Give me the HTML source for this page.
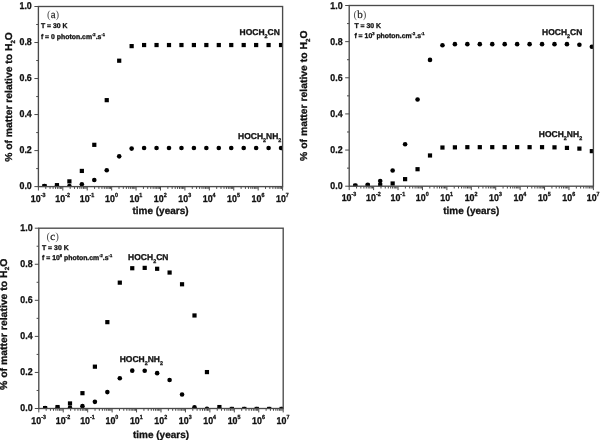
<!DOCTYPE html>
<html><head><meta charset="utf-8"><title>Plots</title><style>
html,body{margin:0;padding:0;background:#fff;}
body{width:600px;height:440px;overflow:hidden;}
svg{display:block;filter:blur(0.35px);}
text{font-family:"Liberation Sans", sans-serif;fill:#111;}
.tl,.at,.an,.sl{stroke:#111;stroke-width:0.3px;}
.tl{font-size:9.9px;font-weight:bold;}
.sup{font-size:6px;}
.at{font-size:10px;font-weight:bold;}
.sub{font-size:6px;}
.pl{font-family:"Liberation Serif", serif;font-size:11px;fill:#2a2a2a;stroke:#2a2a2a;stroke-width:0.25px;}
.pp{fill:#555;stroke:none;}
.an{font-size:6.9px;font-weight:bold;}
.asup{font-size:4.1px;}
.sl{font-size:8.5px;font-weight:bold;}
.ssub{font-size:5.4px;}
</style></head>
<body><svg width="600" height="440" viewBox="0 0 600 440">
<rect width="600" height="440" fill="#fff"/>
<clipPath id="clipa"><rect x="38.4" y="6.5" width="244.2" height="180.1"/></clipPath>
<g clip-path="url(#clipa)" fill="#000"><circle cx="44.5" cy="186.06" r="2.3"/><circle cx="56.95" cy="185.88" r="2.3"/><circle cx="69.4" cy="186.06" r="2.3"/><circle cx="81.85" cy="184.26" r="2.3"/><circle cx="94.3" cy="179.94" r="2.3"/><circle cx="106.75" cy="170.21" r="2.3"/><circle cx="119.2" cy="156.34" r="2.3"/><circle cx="131.65" cy="148.6" r="2.3"/><circle cx="144.1" cy="148.06" r="2.3"/><circle cx="156.55" cy="148.06" r="2.3"/><circle cx="169" cy="148.06" r="2.3"/><circle cx="181.45" cy="148.06" r="2.3"/><circle cx="193.9" cy="148.06" r="2.3"/><circle cx="206.35" cy="148.06" r="2.3"/><circle cx="218.8" cy="148.06" r="2.3"/><circle cx="231.25" cy="148.06" r="2.3"/><circle cx="243.7" cy="148.06" r="2.3"/><circle cx="256.15" cy="148.06" r="2.3"/><circle cx="268.6" cy="148.06" r="2.3"/><circle cx="281.05" cy="148.06" r="2.3"/><rect x="42.4" y="183.96" width="4.2" height="4.2"/><rect x="54.85" y="183.06" width="4.2" height="4.2"/><rect x="67.3" y="179.28" width="4.2" height="4.2"/><rect x="79.75" y="168.83" width="4.2" height="4.2"/><rect x="92.2" y="142.72" width="4.2" height="4.2"/><rect x="104.65" y="98.05" width="4.2" height="4.2"/><rect x="117.1" y="58.61" width="4.2" height="4.2"/><rect x="129.55" y="44.02" width="4.2" height="4.2"/><rect x="142" y="42.94" width="4.2" height="4.2"/><rect x="154.45" y="42.94" width="4.2" height="4.2"/><rect x="166.9" y="42.94" width="4.2" height="4.2"/><rect x="179.35" y="42.94" width="4.2" height="4.2"/><rect x="191.8" y="42.94" width="4.2" height="4.2"/><rect x="204.25" y="42.94" width="4.2" height="4.2"/><rect x="216.7" y="42.94" width="4.2" height="4.2"/><rect x="229.15" y="42.94" width="4.2" height="4.2"/><rect x="241.6" y="42.94" width="4.2" height="4.2"/><rect x="254.05" y="42.94" width="4.2" height="4.2"/><rect x="266.5" y="42.94" width="4.2" height="4.2"/><rect x="278.95" y="42.94" width="4.2" height="4.2"/></g>
<rect x="38.4" y="6.5" width="244.2" height="180.1" fill="none" stroke="#4a4a4a" stroke-width="1.35"/>
<path d="M34.4 186.6H38.4M36.2 168.59H38.4M34.4 150.58H38.4M36.2 132.57H38.4M34.4 114.56H38.4M36.2 96.55H38.4M34.4 78.54H38.4M36.2 60.53H38.4M34.4 42.52H38.4M36.2 24.51H38.4M34.4 6.5H38.4M38.4 186.6V190.5M45.75 186.6V188.9M50.05 186.6V188.9M53.1 186.6V188.9M55.47 186.6V188.9M57.4 186.6V188.9M59.04 186.6V188.9M60.45 186.6V188.9M61.7 186.6V188.9M62.82 186.6V190.5M70.17 186.6V188.9M74.47 186.6V188.9M77.52 186.6V188.9M79.89 186.6V188.9M81.82 186.6V188.9M83.46 186.6V188.9M84.87 186.6V188.9M86.12 186.6V188.9M87.24 186.6V190.5M94.59 186.6V188.9M98.89 186.6V188.9M101.94 186.6V188.9M104.31 186.6V188.9M106.24 186.6V188.9M107.88 186.6V188.9M109.29 186.6V188.9M110.54 186.6V188.9M111.66 186.6V190.5M119.01 186.6V188.9M123.31 186.6V188.9M126.36 186.6V188.9M128.73 186.6V188.9M130.66 186.6V188.9M132.3 186.6V188.9M133.71 186.6V188.9M134.96 186.6V188.9M136.08 186.6V190.5M143.43 186.6V188.9M147.73 186.6V188.9M150.78 186.6V188.9M153.15 186.6V188.9M155.08 186.6V188.9M156.72 186.6V188.9M158.13 186.6V188.9M159.38 186.6V188.9M160.5 186.6V190.5M167.85 186.6V188.9M172.15 186.6V188.9M175.2 186.6V188.9M177.57 186.6V188.9M179.5 186.6V188.9M181.14 186.6V188.9M182.55 186.6V188.9M183.8 186.6V188.9M184.92 186.6V190.5M192.27 186.6V188.9M196.57 186.6V188.9M199.62 186.6V188.9M201.99 186.6V188.9M203.92 186.6V188.9M205.56 186.6V188.9M206.97 186.6V188.9M208.22 186.6V188.9M209.34 186.6V190.5M216.69 186.6V188.9M220.99 186.6V188.9M224.04 186.6V188.9M226.41 186.6V188.9M228.34 186.6V188.9M229.98 186.6V188.9M231.39 186.6V188.9M232.64 186.6V188.9M233.76 186.6V190.5M241.11 186.6V188.9M245.41 186.6V188.9M248.46 186.6V188.9M250.83 186.6V188.9M252.76 186.6V188.9M254.4 186.6V188.9M255.81 186.6V188.9M257.06 186.6V188.9M258.18 186.6V190.5M265.53 186.6V188.9M269.83 186.6V188.9M272.88 186.6V188.9M275.25 186.6V188.9M277.18 186.6V188.9M278.82 186.6V188.9M280.23 186.6V188.9M281.48 186.6V188.9M282.6 186.6V190.5" stroke="#4a4a4a" stroke-width="1" fill="none"/>
<text transform="translate(31.8 188.8) scale(0.9 1) skewX(0.3)" text-anchor="end" class="tl">0.0</text>
<text transform="translate(31.8 152.78) scale(0.9 1) skewX(0.3)" text-anchor="end" class="tl">0.2</text>
<text transform="translate(31.8 116.76) scale(0.9 1) skewX(0.3)" text-anchor="end" class="tl">0.4</text>
<text transform="translate(31.8 80.74) scale(0.9 1) skewX(0.3)" text-anchor="end" class="tl">0.6</text>
<text transform="translate(31.8 44.72) scale(0.9 1) skewX(0.3)" text-anchor="end" class="tl">0.8</text>
<text transform="translate(31.8 8.7) scale(0.9 1) skewX(0.3)" text-anchor="end" class="tl">1.0</text>
<text transform="translate(38.2 202.3) scale(0.9 1) skewX(0.3)" text-anchor="middle" class="tl">10<tspan class="sup" dy="-5">-3</tspan></text>
<text transform="translate(62.62 202.3) scale(0.9 1) skewX(0.3)" text-anchor="middle" class="tl">10<tspan class="sup" dy="-5">-2</tspan></text>
<text transform="translate(87.04 202.3) scale(0.9 1) skewX(0.3)" text-anchor="middle" class="tl">10<tspan class="sup" dy="-5">-1</tspan></text>
<text transform="translate(111.46 202.3) scale(0.9 1) skewX(0.3)" text-anchor="middle" class="tl">10<tspan class="sup" dy="-5">0</tspan></text>
<text transform="translate(135.88 202.3) scale(0.9 1) skewX(0.3)" text-anchor="middle" class="tl">10<tspan class="sup" dy="-5">1</tspan></text>
<text transform="translate(160.3 202.3) scale(0.9 1) skewX(0.3)" text-anchor="middle" class="tl">10<tspan class="sup" dy="-5">2</tspan></text>
<text transform="translate(184.72 202.3) scale(0.9 1) skewX(0.3)" text-anchor="middle" class="tl">10<tspan class="sup" dy="-5">3</tspan></text>
<text transform="translate(209.14 202.3) scale(0.9 1) skewX(0.3)" text-anchor="middle" class="tl">10<tspan class="sup" dy="-5">4</tspan></text>
<text transform="translate(233.56 202.3) scale(0.9 1) skewX(0.3)" text-anchor="middle" class="tl">10<tspan class="sup" dy="-5">5</tspan></text>
<text transform="translate(257.98 202.3) scale(0.9 1) skewX(0.3)" text-anchor="middle" class="tl">10<tspan class="sup" dy="-5">6</tspan></text>
<text transform="translate(282.4 202.3) scale(0.9 1) skewX(0.3)" text-anchor="middle" class="tl">10<tspan class="sup" dy="-5">7</tspan></text>
<text transform="translate(160.5 214) skewX(0.3)" text-anchor="middle" class="at">time (years)</text>
<text transform="translate(12.3 161.8) rotate(-90) skewX(0.3)" class="at" textLength="129.7" lengthAdjust="spacingAndGlyphs">% of matter relative to H<tspan class="sub" dy="2.6">2</tspan><tspan dy="-2.6">O</tspan></text>
<text transform="translate(47 17.8) skewX(0.3)" class="pl"><tspan class="pp">(</tspan>a<tspan class="pp">)</tspan></text>
<text transform="translate(40.9 28.4) skewX(0.3)" class="an">T = 30 K</text>
<text transform="translate(40.9 38.7) skewX(0.3)" class="an">f = 0 photon.cm<tspan class="asup" dy="-3">-2</tspan><tspan dy="3">.s</tspan><tspan class="asup" dy="-3">-1</tspan></text>
<text transform="translate(239.5 35.2) skewX(0.3)" class="sl">HOCH<tspan class="ssub" dy="3">2</tspan><tspan dy="-3">CN</tspan></text>
<text transform="translate(238 138.8) skewX(0.3)" class="sl">HOCH<tspan class="ssub" dy="3">2</tspan><tspan dy="-3">NH</tspan><tspan class="ssub" dy="3">2</tspan></text>
<clipPath id="clipb"><rect x="349.2" y="5.5" width="244.2" height="180.7"/></clipPath>
<g clip-path="url(#clipb)" fill="#000"><rect x="353.2" y="183.74" width="4.2" height="4.2"/><rect x="365.65" y="183.56" width="4.2" height="4.2"/><rect x="378.1" y="183.02" width="4.2" height="4.2"/><rect x="390.55" y="181.39" width="4.2" height="4.2"/><rect x="403" y="177.05" width="4.2" height="4.2"/><rect x="415.45" y="167.11" width="4.2" height="4.2"/><rect x="427.9" y="153.38" width="4.2" height="4.2"/><rect x="440.35" y="145.43" width="4.2" height="4.2"/><rect x="452.8" y="145.25" width="4.2" height="4.2"/><rect x="465.25" y="145.07" width="4.2" height="4.2"/><rect x="477.7" y="145.07" width="4.2" height="4.2"/><rect x="490.15" y="145.07" width="4.2" height="4.2"/><rect x="502.6" y="145.07" width="4.2" height="4.2"/><rect x="515.05" y="145.07" width="4.2" height="4.2"/><rect x="527.5" y="145.07" width="4.2" height="4.2"/><rect x="539.95" y="145.07" width="4.2" height="4.2"/><rect x="552.4" y="145.25" width="4.2" height="4.2"/><rect x="564.85" y="145.79" width="4.2" height="4.2"/><rect x="577.3" y="146.51" width="4.2" height="4.2"/><rect x="589.75" y="149.04" width="4.2" height="4.2"/><circle cx="355.3" cy="185.66" r="2.3"/><circle cx="367.75" cy="184.75" r="2.3"/><circle cx="380.2" cy="180.96" r="2.3"/><circle cx="392.65" cy="170.48" r="2.3"/><circle cx="405.1" cy="144.28" r="2.3"/><circle cx="417.55" cy="99.46" r="2.3"/><circle cx="430" cy="59.89" r="2.3"/><circle cx="442.45" cy="45.25" r="2.3"/><circle cx="454.9" cy="44.17" r="2.3"/><circle cx="467.35" cy="44.17" r="2.3"/><circle cx="479.8" cy="44.17" r="2.3"/><circle cx="492.25" cy="44.17" r="2.3"/><circle cx="504.7" cy="44.17" r="2.3"/><circle cx="517.15" cy="44.17" r="2.3"/><circle cx="529.6" cy="44.17" r="2.3"/><circle cx="542.05" cy="44.17" r="2.3"/><circle cx="554.5" cy="44.17" r="2.3"/><circle cx="566.95" cy="44.17" r="2.3"/><circle cx="579.4" cy="44.71" r="2.3"/><circle cx="591.85" cy="46.7" r="2.3"/></g>
<rect x="349.2" y="5.5" width="244.2" height="180.7" fill="none" stroke="#4a4a4a" stroke-width="1.35"/>
<path d="M345.2 186.2H349.2M347 168.13H349.2M345.2 150.06H349.2M347 131.99H349.2M345.2 113.92H349.2M347 95.85H349.2M345.2 77.78H349.2M347 59.71H349.2M345.2 41.64H349.2M347 23.57H349.2M345.2 5.5H349.2M349.2 186.2V190.1M356.55 186.2V188.5M360.85 186.2V188.5M363.9 186.2V188.5M366.27 186.2V188.5M368.2 186.2V188.5M369.84 186.2V188.5M371.25 186.2V188.5M372.5 186.2V188.5M373.62 186.2V190.1M380.97 186.2V188.5M385.27 186.2V188.5M388.32 186.2V188.5M390.69 186.2V188.5M392.62 186.2V188.5M394.26 186.2V188.5M395.67 186.2V188.5M396.92 186.2V188.5M398.04 186.2V190.1M405.39 186.2V188.5M409.69 186.2V188.5M412.74 186.2V188.5M415.11 186.2V188.5M417.04 186.2V188.5M418.68 186.2V188.5M420.09 186.2V188.5M421.34 186.2V188.5M422.46 186.2V190.1M429.81 186.2V188.5M434.11 186.2V188.5M437.16 186.2V188.5M439.53 186.2V188.5M441.46 186.2V188.5M443.1 186.2V188.5M444.51 186.2V188.5M445.76 186.2V188.5M446.88 186.2V190.1M454.23 186.2V188.5M458.53 186.2V188.5M461.58 186.2V188.5M463.95 186.2V188.5M465.88 186.2V188.5M467.52 186.2V188.5M468.93 186.2V188.5M470.18 186.2V188.5M471.3 186.2V190.1M478.65 186.2V188.5M482.95 186.2V188.5M486 186.2V188.5M488.37 186.2V188.5M490.3 186.2V188.5M491.94 186.2V188.5M493.35 186.2V188.5M494.6 186.2V188.5M495.72 186.2V190.1M503.07 186.2V188.5M507.37 186.2V188.5M510.42 186.2V188.5M512.79 186.2V188.5M514.72 186.2V188.5M516.36 186.2V188.5M517.77 186.2V188.5M519.02 186.2V188.5M520.14 186.2V190.1M527.49 186.2V188.5M531.79 186.2V188.5M534.84 186.2V188.5M537.21 186.2V188.5M539.14 186.2V188.5M540.78 186.2V188.5M542.19 186.2V188.5M543.44 186.2V188.5M544.56 186.2V190.1M551.91 186.2V188.5M556.21 186.2V188.5M559.26 186.2V188.5M561.63 186.2V188.5M563.56 186.2V188.5M565.2 186.2V188.5M566.61 186.2V188.5M567.86 186.2V188.5M568.98 186.2V190.1M576.33 186.2V188.5M580.63 186.2V188.5M583.68 186.2V188.5M586.05 186.2V188.5M587.98 186.2V188.5M589.62 186.2V188.5M591.03 186.2V188.5M592.28 186.2V188.5M593.4 186.2V190.1" stroke="#4a4a4a" stroke-width="1" fill="none"/>
<text transform="translate(342.6 189.2) scale(0.9 1) skewX(0.3)" text-anchor="end" class="tl">0.0</text>
<text transform="translate(342.6 153.06) scale(0.9 1) skewX(0.3)" text-anchor="end" class="tl">0.2</text>
<text transform="translate(342.6 116.92) scale(0.9 1) skewX(0.3)" text-anchor="end" class="tl">0.4</text>
<text transform="translate(342.6 80.78) scale(0.9 1) skewX(0.3)" text-anchor="end" class="tl">0.6</text>
<text transform="translate(342.6 44.64) scale(0.9 1) skewX(0.3)" text-anchor="end" class="tl">0.8</text>
<text transform="translate(342.6 8.5) scale(0.9 1) skewX(0.3)" text-anchor="end" class="tl">1.0</text>
<text transform="translate(349 201.3) scale(0.9 1) skewX(0.3)" text-anchor="middle" class="tl">10<tspan class="sup" dy="-5">-3</tspan></text>
<text transform="translate(373.42 201.3) scale(0.9 1) skewX(0.3)" text-anchor="middle" class="tl">10<tspan class="sup" dy="-5">-2</tspan></text>
<text transform="translate(397.84 201.3) scale(0.9 1) skewX(0.3)" text-anchor="middle" class="tl">10<tspan class="sup" dy="-5">-1</tspan></text>
<text transform="translate(422.26 201.3) scale(0.9 1) skewX(0.3)" text-anchor="middle" class="tl">10<tspan class="sup" dy="-5">0</tspan></text>
<text transform="translate(446.68 201.3) scale(0.9 1) skewX(0.3)" text-anchor="middle" class="tl">10<tspan class="sup" dy="-5">1</tspan></text>
<text transform="translate(471.1 201.3) scale(0.9 1) skewX(0.3)" text-anchor="middle" class="tl">10<tspan class="sup" dy="-5">2</tspan></text>
<text transform="translate(495.52 201.3) scale(0.9 1) skewX(0.3)" text-anchor="middle" class="tl">10<tspan class="sup" dy="-5">3</tspan></text>
<text transform="translate(519.94 201.3) scale(0.9 1) skewX(0.3)" text-anchor="middle" class="tl">10<tspan class="sup" dy="-5">4</tspan></text>
<text transform="translate(544.36 201.3) scale(0.9 1) skewX(0.3)" text-anchor="middle" class="tl">10<tspan class="sup" dy="-5">5</tspan></text>
<text transform="translate(568.78 201.3) scale(0.9 1) skewX(0.3)" text-anchor="middle" class="tl">10<tspan class="sup" dy="-5">6</tspan></text>
<text transform="translate(593.2 201.3) scale(0.9 1) skewX(0.3)" text-anchor="middle" class="tl">10<tspan class="sup" dy="-5">7</tspan></text>
<text transform="translate(471.3 213.7) skewX(0.3)" text-anchor="middle" class="at">time (years)</text>
<text transform="translate(307 160.9) rotate(-90) skewX(0.3)" class="at" textLength="130.4" lengthAdjust="spacingAndGlyphs">% of matter relative to H<tspan class="sub" dy="2.6">2</tspan><tspan dy="-2.6">O</tspan></text>
<text transform="translate(353.5 17.6) skewX(0.3)" class="pl"><tspan class="pp">(</tspan>b<tspan class="pp">)</tspan></text>
<text transform="translate(354.4 28.3) skewX(0.3)" class="an">T = 30 K</text>
<text transform="translate(354.4 38.3) skewX(0.3)" class="an">f = 10<tspan class="asup" dy="-3">3</tspan><tspan dy="3">&#160;</tspan>photon.cm<tspan class="asup" dy="-3">-2</tspan><tspan dy="3">.s</tspan><tspan class="asup" dy="-3">-1</tspan></text>
<text transform="translate(542 35.2) skewX(0.3)" class="sl">HOCH<tspan class="ssub" dy="3">2</tspan><tspan dy="-3">CN</tspan></text>
<text transform="translate(538.8 136.5) skewX(0.3)" class="sl">HOCH<tspan class="ssub" dy="3">2</tspan><tspan dy="-3">NH</tspan><tspan class="ssub" dy="3">2</tspan></text>
<clipPath id="clipc"><rect x="38.8" y="228.2" width="244.4" height="180.3"/></clipPath>
<g clip-path="url(#clipc)" fill="#000"><circle cx="45.1" cy="408.14" r="2.3"/><circle cx="57.55" cy="407.96" r="2.3"/><circle cx="70" cy="407.78" r="2.3"/><circle cx="82.45" cy="406.16" r="2.3"/><circle cx="94.9" cy="401.83" r="2.3"/><circle cx="107.35" cy="392.09" r="2.3"/><circle cx="119.8" cy="378.21" r="2.3"/><circle cx="132.25" cy="370.64" r="2.3"/><circle cx="144.7" cy="370.82" r="2.3"/><circle cx="157.15" cy="373.16" r="2.3"/><circle cx="169.6" cy="380.01" r="2.3"/><circle cx="182.05" cy="394.44" r="2.3"/><circle cx="194.5" cy="407.24" r="2.3"/><circle cx="206.95" cy="408.86" r="2.3"/><circle cx="219.4" cy="408.95" r="2.3"/><circle cx="231.85" cy="408.95" r="2.3"/><circle cx="244.3" cy="408.95" r="2.3"/><circle cx="256.75" cy="408.95" r="2.3"/><circle cx="269.2" cy="408.95" r="2.3"/><circle cx="281.65" cy="408.95" r="2.3"/><rect x="43" y="406.04" width="4.2" height="4.2"/><rect x="55.45" y="404.96" width="4.2" height="4.2"/><rect x="67.9" y="401.35" width="4.2" height="4.2"/><rect x="80.35" y="391.07" width="4.2" height="4.2"/><rect x="92.8" y="364.57" width="4.2" height="4.2"/><rect x="105.25" y="320.04" width="4.2" height="4.2"/><rect x="117.7" y="280.55" width="4.2" height="4.2"/><rect x="130.15" y="266.13" width="4.2" height="4.2"/><rect x="142.6" y="265.77" width="4.2" height="4.2"/><rect x="155.05" y="266.67" width="4.2" height="4.2"/><rect x="167.5" y="270.45" width="4.2" height="4.2"/><rect x="179.95" y="282.17" width="4.2" height="4.2"/><rect x="192.4" y="313.37" width="4.2" height="4.2"/><rect x="204.85" y="369.98" width="4.2" height="4.2"/><rect x="217.3" y="404.96" width="4.2" height="4.2"/><rect x="229.75" y="406.85" width="4.2" height="4.2"/><rect x="242.2" y="406.85" width="4.2" height="4.2"/><rect x="254.65" y="406.85" width="4.2" height="4.2"/><rect x="267.1" y="406.85" width="4.2" height="4.2"/><rect x="279.55" y="406.85" width="4.2" height="4.2"/></g>
<rect x="38.8" y="228.2" width="244.4" height="180.3" fill="none" stroke="#4a4a4a" stroke-width="1.35"/>
<path d="M34.8 408.5H38.8M36.6 390.47H38.8M34.8 372.44H38.8M36.6 354.41H38.8M34.8 336.38H38.8M36.6 318.35H38.8M34.8 300.32H38.8M36.6 282.29H38.8M34.8 264.26H38.8M36.6 246.23H38.8M34.8 228.2H38.8M38.8 408.5V412.4M46.16 408.5V410.8M50.46 408.5V410.8M53.51 408.5V410.8M55.88 408.5V410.8M57.82 408.5V410.8M59.45 408.5V410.8M60.87 408.5V410.8M62.12 408.5V410.8M63.24 408.5V412.4M70.6 408.5V410.8M74.9 408.5V410.8M77.95 408.5V410.8M80.32 408.5V410.8M82.26 408.5V410.8M83.89 408.5V410.8M85.31 408.5V410.8M86.56 408.5V410.8M87.68 408.5V412.4M95.04 408.5V410.8M99.34 408.5V410.8M102.39 408.5V410.8M104.76 408.5V410.8M106.7 408.5V410.8M108.33 408.5V410.8M109.75 408.5V410.8M111 408.5V410.8M112.12 408.5V412.4M119.48 408.5V410.8M123.78 408.5V410.8M126.83 408.5V410.8M129.2 408.5V410.8M131.14 408.5V410.8M132.77 408.5V410.8M134.19 408.5V410.8M135.44 408.5V410.8M136.56 408.5V412.4M143.92 408.5V410.8M148.22 408.5V410.8M151.27 408.5V410.8M153.64 408.5V410.8M155.58 408.5V410.8M157.21 408.5V410.8M158.63 408.5V410.8M159.88 408.5V410.8M161 408.5V412.4M168.36 408.5V410.8M172.66 408.5V410.8M175.71 408.5V410.8M178.08 408.5V410.8M180.02 408.5V410.8M181.65 408.5V410.8M183.07 408.5V410.8M184.32 408.5V410.8M185.44 408.5V412.4M192.8 408.5V410.8M197.1 408.5V410.8M200.15 408.5V410.8M202.52 408.5V410.8M204.46 408.5V410.8M206.09 408.5V410.8M207.51 408.5V410.8M208.76 408.5V410.8M209.88 408.5V412.4M217.24 408.5V410.8M221.54 408.5V410.8M224.59 408.5V410.8M226.96 408.5V410.8M228.9 408.5V410.8M230.53 408.5V410.8M231.95 408.5V410.8M233.2 408.5V410.8M234.32 408.5V412.4M241.68 408.5V410.8M245.98 408.5V410.8M249.03 408.5V410.8M251.4 408.5V410.8M253.34 408.5V410.8M254.97 408.5V410.8M256.39 408.5V410.8M257.64 408.5V410.8M258.76 408.5V412.4M266.12 408.5V410.8M270.42 408.5V410.8M273.47 408.5V410.8M275.84 408.5V410.8M277.78 408.5V410.8M279.41 408.5V410.8M280.83 408.5V410.8M282.08 408.5V410.8M283.2 408.5V412.4" stroke="#4a4a4a" stroke-width="1" fill="none"/>
<text transform="translate(32.6 411.3) scale(0.9 1) skewX(0.3)" text-anchor="end" class="tl">0.0</text>
<text transform="translate(32.6 375.24) scale(0.9 1) skewX(0.3)" text-anchor="end" class="tl">0.2</text>
<text transform="translate(32.6 339.18) scale(0.9 1) skewX(0.3)" text-anchor="end" class="tl">0.4</text>
<text transform="translate(32.6 303.12) scale(0.9 1) skewX(0.3)" text-anchor="end" class="tl">0.6</text>
<text transform="translate(32.6 267.06) scale(0.9 1) skewX(0.3)" text-anchor="end" class="tl">0.8</text>
<text transform="translate(32.6 231) scale(0.9 1) skewX(0.3)" text-anchor="end" class="tl">1.0</text>
<text transform="translate(38.6 424) scale(0.9 1) skewX(0.3)" text-anchor="middle" class="tl">10<tspan class="sup" dy="-5">-3</tspan></text>
<text transform="translate(63.04 424) scale(0.9 1) skewX(0.3)" text-anchor="middle" class="tl">10<tspan class="sup" dy="-5">-2</tspan></text>
<text transform="translate(87.48 424) scale(0.9 1) skewX(0.3)" text-anchor="middle" class="tl">10<tspan class="sup" dy="-5">-1</tspan></text>
<text transform="translate(111.92 424) scale(0.9 1) skewX(0.3)" text-anchor="middle" class="tl">10<tspan class="sup" dy="-5">0</tspan></text>
<text transform="translate(136.36 424) scale(0.9 1) skewX(0.3)" text-anchor="middle" class="tl">10<tspan class="sup" dy="-5">1</tspan></text>
<text transform="translate(160.8 424) scale(0.9 1) skewX(0.3)" text-anchor="middle" class="tl">10<tspan class="sup" dy="-5">2</tspan></text>
<text transform="translate(185.24 424) scale(0.9 1) skewX(0.3)" text-anchor="middle" class="tl">10<tspan class="sup" dy="-5">3</tspan></text>
<text transform="translate(209.68 424) scale(0.9 1) skewX(0.3)" text-anchor="middle" class="tl">10<tspan class="sup" dy="-5">4</tspan></text>
<text transform="translate(234.12 424) scale(0.9 1) skewX(0.3)" text-anchor="middle" class="tl">10<tspan class="sup" dy="-5">5</tspan></text>
<text transform="translate(258.56 424) scale(0.9 1) skewX(0.3)" text-anchor="middle" class="tl">10<tspan class="sup" dy="-5">6</tspan></text>
<text transform="translate(283 424) scale(0.9 1) skewX(0.3)" text-anchor="middle" class="tl">10<tspan class="sup" dy="-5">7</tspan></text>
<text transform="translate(161 438.4) skewX(0.3)" text-anchor="middle" class="at">time (years)</text>
<text transform="translate(6.8 390) rotate(-90) skewX(0.3)" class="at" textLength="131.3" lengthAdjust="spacingAndGlyphs">% of matter relative to H<tspan class="sub" dy="2.6">2</tspan><tspan dy="-2.6">O</tspan></text>
<text transform="translate(46.6 240.2) skewX(0.3)" class="pl"><tspan class="pp">(</tspan>c<tspan class="pp">)</tspan></text>
<text transform="translate(42 250) skewX(0.3)" class="an">T = 30 K</text>
<text transform="translate(42 260.4) skewX(0.3)" class="an">f = 10<tspan class="asup" dy="-3">8</tspan><tspan dy="3">&#160;</tspan>photon.cm<tspan class="asup" dy="-3">-2</tspan><tspan dy="3">.s</tspan><tspan class="asup" dy="-3">-1</tspan></text>
<text transform="translate(128.1 260.2) skewX(0.3)" class="sl">HOCH<tspan class="ssub" dy="3">2</tspan><tspan dy="-3">CN</tspan></text>
<text transform="translate(119.7 361.6) skewX(0.3)" class="sl">HOCH<tspan class="ssub" dy="3">2</tspan><tspan dy="-3">NH</tspan><tspan class="ssub" dy="3">2</tspan></text>
</svg></body></html>
